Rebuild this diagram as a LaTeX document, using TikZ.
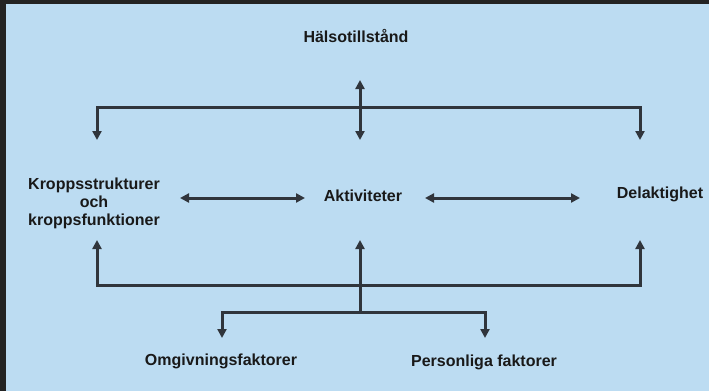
\documentclass[tikz,border=0pt]{standalone}
\usepackage{fontspec}
\setmainfont{Liberation Sans}
\usetikzlibrary{arrows.meta}
\definecolor{bakgrund}{HTML}{BCDCF2}
\definecolor{ram}{HTML}{232323}
\definecolor{linje}{HTML}{30353C}
\begin{document}
\begin{tikzpicture}[
    x=1pt,y=-1pt,
    font=\fontsize{16}{18}\selectfont\bfseries,
    text=black!90,
    ruta/.style={inner sep=2pt,align=center},
    pil/.style={line width=3pt,draw=linje,
                -{Triangle[length=9pt,width=9pt]}},
    dubbelpil/.style={pil,{Triangle[length=9pt,width=9pt]}-{Triangle[length=9pt,width=9pt]}}]

  % --- ram och bakgrund ---
  \fill[ram] (0,0) rectangle (709,391);
  \fill[bakgrund] (6,4) rectangle (709,391);
  \useasboundingbox (0,0) rectangle (709,391);

  % --- komponenterna ---
  \node[ruta] (halsa) at (356,36) {Hälsotillstånd};
  \node[ruta] (kropp) at (94,203) {Kroppsstrukturer\\och\\kroppsfunktioner};
  \node[ruta] (akt)   at (363,196) {Aktiviteter};
  \node[ruta] (del)   at (660,194) {Delaktighet};
  \node[ruta] (omg)   at (221,361) {Omgivningsfaktorer};
  \node[ruta] (pers)  at (484,362) {Personliga faktorer};

  % --- hjälppunkter för ledningarna ---
  \coordinate (tupp) at (360,80);
  \coordinate (tmitt) at (360,107);
  \coordinate (kned) at (97,140);
  \coordinate (aned) at (360,140);
  \coordinate (dned) at (640,140);
  \coordinate (bmitt) at (360,285);
  \coordinate (kupp) at (97,240);
  \coordinate (aupp) at (360,240);
  \coordinate (dupp) at (640,240);
  \coordinate (gren) at (360,312);
  \coordinate (oned) at (222,338);
  \coordinate (pned) at (485,338);
  \coordinate (h1) at (180,198);
  \coordinate (h2) at (305,198);
  \coordinate (h3) at (425,198);
  \coordinate (h4) at (580,198);

  % --- övre fördelningen ---
  \draw[dubbelpil] (aned) -- (tupp);
  \draw[pil] (tmitt) -| (kned);
  \draw[pil] (tmitt) -| (dned);

  % --- vågräta pilar ---
  \draw[dubbelpil] (h1) -- (h2);
  \draw[dubbelpil] (h3) -- (h4);

  % --- nedre fördelningen ---
  \draw[pil] (gren) -- (aupp);
  \draw[pil] (bmitt) -| (kupp);
  \draw[pil] (bmitt) -| (dupp);
  \draw[pil] (gren) -| (oned);
  \draw[pil] (gren) -| (pned);

\end{tikzpicture}
\end{document}
